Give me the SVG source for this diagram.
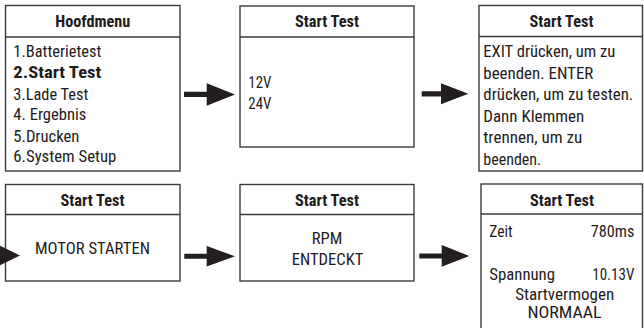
<svg xmlns="http://www.w3.org/2000/svg" width="644" height="328" viewBox="0 0 644 328">
<style>
.box{fill:#fff;stroke:#3a3a3a;stroke-width:1.4}
.sep{stroke:#3a3a3a;stroke-width:1.4}
text{font-family:"Roboto Condensed",Roboto,"Liberation Sans Narrow",sans-serif;font-size:16px;fill:#1e1b1c}
.h{font-weight:bold;text-anchor:middle;font-size:16.5px}
.b{font-weight:bold}
.c{text-anchor:middle}
.r{text-anchor:end}
.arr{fill:#231f20}
</style>
<rect width="644" height="328" fill="#fff"/>
<g id="node-hoofdmenu">
<rect class="box" x="5.5" y="5.5" width="174.5" height="165.5"/>
<line class="sep" x1="5.5" y1="37" x2="180" y2="37"/>
<text class="h" x="92.7" y="27.3" textLength="75" lengthAdjust="spacingAndGlyphs">Hoofdmenu</text>
<text x="13.3" y="57" textLength="88" lengthAdjust="spacingAndGlyphs">1.Batterietest</text>
<text class="b" x="13.3" y="78" textLength="88" lengthAdjust="spacingAndGlyphs">2.Start Test</text>
<text x="13.3" y="99.5" textLength="75" lengthAdjust="spacingAndGlyphs">3.Lade Test</text>
<text x="13.3" y="120" textLength="73" lengthAdjust="spacingAndGlyphs">4. Ergebnis</text>
<text x="13.3" y="141.5" textLength="66" lengthAdjust="spacingAndGlyphs">5.Drucken</text>
<text x="13.3" y="162.3" textLength="103" lengthAdjust="spacingAndGlyphs">6.System Setup</text>
</g>
<g id="node-spannung">
<rect class="box" x="240" y="6" width="174" height="141"/>
<line class="sep" x1="240" y1="37" x2="414" y2="37"/>
<text class="h" x="327" y="27.3" textLength="64" lengthAdjust="spacingAndGlyphs">Start Test</text>
<text x="248.3" y="88.3" textLength="23" lengthAdjust="spacingAndGlyphs">12V</text>
<text x="248.3" y="109" textLength="23" lengthAdjust="spacingAndGlyphs">24V</text>
</g>
<g id="node-anweisung">
<rect class="box" x="479" y="5.5" width="163.5" height="165.5"/>
<line class="sep" x1="479" y1="36.5" x2="642.5" y2="36.5"/>
<text class="h" x="561.5" y="27" textLength="64" lengthAdjust="spacingAndGlyphs">Start Test</text>
<text x="483.3" y="57" textLength="132" lengthAdjust="spacingAndGlyphs">EXIT drücken, um zu</text>
<text x="483.3" y="78.5" textLength="110" lengthAdjust="spacingAndGlyphs">beenden. ENTER</text>
<text x="483.3" y="100" textLength="150" lengthAdjust="spacingAndGlyphs">drücken, um zu testen.</text>
<text x="483.3" y="121.5" textLength="101" lengthAdjust="spacingAndGlyphs">Dann Klemmen</text>
<text x="483.3" y="143" textLength="99" lengthAdjust="spacingAndGlyphs">trennen, um zu</text>
<text x="483.3" y="164.5" textLength="58" lengthAdjust="spacingAndGlyphs">beenden.</text>
</g>
<g id="node-motor">
<rect class="box" x="5.5" y="184.5" width="174.5" height="96.5"/>
<line class="sep" x1="5.5" y1="214.5" x2="180" y2="214.5"/>
<text class="h" x="92.5" y="205.7" textLength="64" lengthAdjust="spacingAndGlyphs">Start Test</text>
<text class="c" x="92.5" y="254" textLength="115" lengthAdjust="spacingAndGlyphs">MOTOR STARTEN</text>
</g>
<g id="node-rpm">
<rect class="box" x="240" y="184.5" width="174" height="96.5"/>
<line class="sep" x1="240" y1="214.5" x2="414" y2="214.5"/>
<text class="h" x="327" y="205.7" textLength="64" lengthAdjust="spacingAndGlyphs">Start Test</text>
<text class="c" x="327" y="244" textLength="30.6" lengthAdjust="spacingAndGlyphs">RPM</text>
<text class="c" x="327.5" y="265" textLength="71.6" lengthAdjust="spacingAndGlyphs">ENTDECKT</text>
</g>
<g id="node-ergebnis">
<rect class="box" x="481" y="184" width="161.5" height="150"/>
<line class="sep" x1="481" y1="214" x2="642.5" y2="214"/>
<text class="h" x="562" y="205.7" textLength="64" lengthAdjust="spacingAndGlyphs">Start Test</text>
<text x="489.3" y="236.7" textLength="23.4" lengthAdjust="spacingAndGlyphs">Zeit</text>
<text class="r" x="634.3" y="236.7" textLength="43.6" lengthAdjust="spacingAndGlyphs">780ms</text>
<text x="489.3" y="280" textLength="65.7" lengthAdjust="spacingAndGlyphs">Spannung</text>
<text class="r" x="634.3" y="280" textLength="42" lengthAdjust="spacingAndGlyphs">10.13V</text>
<text class="c" x="564.7" y="300" textLength="99" lengthAdjust="spacingAndGlyphs">Startvermogen</text>
<text class="c" x="564.5" y="318.3" textLength="74" lengthAdjust="spacingAndGlyphs">NORMAAL</text>
</g>
<g id="connectors">
<polygon class="arr" points="184,91.7 206.7,91.7 206.7,83.3 235,94.5 206.7,105.7 206.7,96.9 184,96.9"/>
<polygon class="arr" points="421.7,91.2 441,91.2 441,83.3 468.3,93.8 441,104.3 441,96.4 421.7,96.4"/>
<polygon class="arr" points="-10,253 -2,253 -2,244.8 20,255.5 -2,266.2 -2,258 -10,258"/>
<polygon class="arr" points="184.3,253.8 206.7,253.8 206.7,246 235,256.3 206.7,266.6 206.7,258.8 184.3,258.8"/>
<polygon class="arr" points="419.3,253.5 441.7,253.5 441.7,245 469.3,256 441.7,266.8 441.7,258.5 419.3,258.5"/>
</g>
</svg>
